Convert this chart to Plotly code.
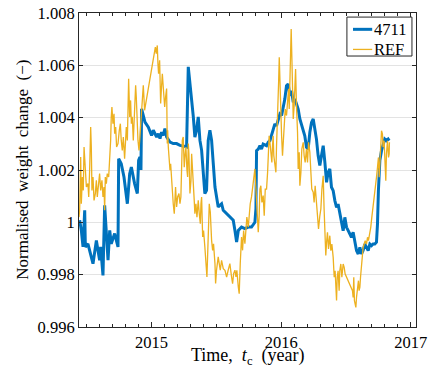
import plotly.graph_objects as go

# ---- data (decimal year, normalised weight) ----
t_4711 = [2014.445, 2014.458, 2014.471, 2014.484, 2014.489, 2014.509, 2014.548, 2014.574, 2014.599, 2014.607,
          2014.625, 2014.638, 2014.664, 2014.677, 2014.689, 2014.715, 2014.741, 2014.746, 2014.766, 2014.787,
          2014.813, 2014.823, 2014.831, 2014.844, 2014.869, 2014.890, 2014.900, 2014.910, 2014.918, 2014.923,
          2014.949, 2014.975, 2015.000, 2015.013, 2015.039, 2015.052, 2015.065, 2015.077, 2015.090, 2015.103,
          2015.116, 2015.142, 2015.167, 2015.193, 2015.219, 2015.244, 2015.270, 2015.283, 2015.296, 2015.309,
          2015.322, 2015.334, 2015.347, 2015.360, 2015.373, 2015.386, 2015.399, 2015.411, 2015.424, 2015.437,
          2015.450, 2015.463, 2015.476, 2015.489, 2015.514, 2015.540, 2015.553, 2015.579, 2015.604, 2015.630,
          2015.643, 2015.656, 2015.669, 2015.694, 2015.720, 2015.746, 2015.771, 2015.797, 2015.805, 2015.810,
          2015.823, 2015.836, 2015.848, 2015.861, 2015.887, 2015.900, 2015.913, 2015.925, 2015.938, 2015.951,
          2015.964, 2015.977, 2015.990, 2016.003, 2016.015, 2016.028, 2016.041, 2016.054, 2016.067, 2016.080,
          2016.093, 2016.105, 2016.118, 2016.131, 2016.144, 2016.157, 2016.170, 2016.182, 2016.195, 2016.208,
          2016.221, 2016.234, 2016.247, 2016.260, 2016.272, 2016.285, 2016.298, 2016.311, 2016.324, 2016.337,
          2016.350, 2016.362, 2016.375, 2016.388, 2016.401, 2016.414, 2016.427, 2016.439, 2016.452, 2016.465,
          2016.478, 2016.491, 2016.504, 2016.517, 2016.529, 2016.542, 2016.555, 2016.568, 2016.581, 2016.594,
          2016.607, 2016.619, 2016.632, 2016.645, 2016.658, 2016.671, 2016.684, 2016.697, 2016.709, 2016.722,
          2016.735, 2016.743, 2016.750, 2016.761, 2016.774, 2016.786, 2016.799, 2016.812, 2016.825, 2016.833]
w_4711 = [1.00008, 0.99969, 0.99906, 1.00046, 0.99906, 0.99918, 0.99842, 0.99931, 0.99855, 0.99906,
          0.99797, 1.00065, 0.99855, 0.99969, 0.99918, 0.99957, 0.99906, 1.00243, 1.00224, 1.00173,
          1.00071, 1.00122, 1.00186, 1.00211, 1.00148, 1.00110, 1.00237, 1.00250, 1.00200, 1.00434,
          1.00383, 1.00364, 1.00332, 1.00352, 1.00326, 1.00339, 1.00320, 1.00345, 1.00332, 1.00358,
          1.00326, 1.00307, 1.00301, 1.00301, 1.00294, 1.00292, 1.00288, 1.00594, 1.00536, 1.00470,
          1.00403, 1.00326, 1.00352, 1.00403, 1.00313, 1.00275, 1.00199, 1.00110, 1.00122, 1.00313,
          1.00352, 1.00313, 1.00224, 1.00135, 1.00059, 1.00071, 1.00046, 1.00033, 1.00020, 1.00008,
          0.99969, 0.99925, 0.99969, 0.99982, 0.99976, 0.99982, 0.99982, 1.00000, 1.00051, 1.00274,
          1.00280, 1.00293, 1.00280, 1.00299, 1.00293, 1.00306, 1.00312, 1.00331, 1.00357, 1.00376,
          1.00369, 1.00395, 1.00414, 1.00408, 1.00433, 1.00471, 1.00522, 1.00529, 1.00484, 1.00503,
          1.00459, 1.00471, 1.00452, 1.00433, 1.00395, 1.00376, 1.00350, 1.00331, 1.00287, 1.00280,
          1.00344, 1.00382, 1.00395, 1.00357, 1.00318, 1.00255, 1.00217, 1.00255, 1.00293, 1.00229,
          1.00153, 1.00191, 1.00204, 1.00134, 1.00121, 1.00083, 1.00057, 1.00070, 1.00032, 0.99994,
          0.99968, 1.00019, 0.99981, 0.99968, 0.99955, 0.99943, 0.99962, 0.99917, 0.99892, 0.99879,
          0.99904, 0.99879, 0.99892, 0.99917, 0.99904, 0.99892, 0.99917, 0.99911, 0.99917, 0.99917,
          0.99924, 0.99994, 1.00121, 1.00236, 1.00274, 1.00299, 1.00318, 1.00312, 1.00318, 1.00312]

t_ref = [2014.440, 2014.445, 2014.453, 2014.458, 2014.466, 2014.473, 2014.479, 2014.489, 2014.497, 2014.509,
         2014.515, 2014.522, 2014.530, 2014.535, 2014.540, 2014.548, 2014.556, 2014.566, 2014.574, 2014.581,
         2014.592, 2014.599, 2014.607, 2014.617, 2014.625, 2014.633, 2014.638, 2014.643, 2014.651, 2014.658,
         2014.669, 2014.676, 2014.684, 2014.689, 2014.694, 2014.702, 2014.710, 2014.715, 2014.723, 2014.730,
         2014.741, 2014.751, 2014.759, 2014.766, 2014.774, 2014.782, 2014.792, 2014.805, 2014.813, 2014.818,
         2014.823, 2014.831, 2014.838, 2014.844, 2014.851, 2014.859, 2014.869, 2014.877, 2014.882, 2014.890,
         2014.895, 2014.903, 2014.910, 2014.921, 2014.928, 2014.936, 2014.946, 2015.023, 2015.029, 2015.036,
         2015.044, 2015.049, 2015.054, 2015.062, 2015.070, 2015.075, 2015.083, 2015.090, 2015.101, 2015.108,
         2015.116, 2015.121, 2015.124, 2015.129, 2015.134, 2015.142, 2015.147, 2015.155, 2015.160, 2015.167,
         2015.175, 2015.180, 2015.185, 2015.193, 2015.201, 2015.211, 2015.219, 2015.226, 2015.237, 2015.244,
         2015.252, 2015.257, 2015.265, 2015.273, 2015.278, 2015.283, 2015.288, 2015.296, 2015.304, 2015.309,
         2015.316, 2015.324, 2015.329, 2015.334, 2015.342, 2015.350, 2015.360, 2015.368, 2015.376, 2015.381,
         2015.386, 2015.394, 2015.401, 2015.411, 2015.419, 2015.427, 2015.432, 2015.437, 2015.445, 2015.453,
         2015.458, 2015.463, 2015.471, 2015.478, 2015.489, 2015.494, 2015.501, 2015.509, 2015.514, 2015.522,
         2015.530, 2015.540, 2015.553, 2015.566, 2015.579, 2015.591, 2015.604, 2015.617, 2015.625, 2015.633,
         2015.643, 2015.651, 2015.658, 2015.669, 2015.676, 2015.684, 2015.689, 2015.694, 2015.702, 2015.710,
         2015.720, 2015.728, 2015.735, 2015.746, 2015.753, 2015.761, 2015.771, 2015.784, 2015.797, 2015.805,
         2015.810, 2015.815, 2015.823, 2015.830, 2015.836, 2015.843, 2015.851, 2015.861, 2015.869, 2015.877,
         2015.887, 2015.895, 2015.902, 2015.907, 2015.913, 2015.920, 2015.928, 2015.933, 2015.938, 2015.943,
         2015.951, 2015.959, 2015.964, 2015.969, 2015.974, 2015.980, 2015.985, 2015.990, 2015.995, 2016.003,
         2016.010, 2016.015, 2016.023, 2016.031, 2016.041, 2016.049, 2016.057, 2016.062, 2016.067, 2016.072,
         2016.077, 2016.082, 2016.087, 2016.093, 2016.100, 2016.105, 2016.111, 2016.118, 2016.126, 2016.131,
         2016.139, 2016.144, 2016.152, 2016.159, 2016.170, 2016.177, 2016.185, 2016.195, 2016.203, 2016.211,
         2016.221, 2016.229, 2016.236, 2016.247, 2016.254, 2016.262, 2016.272, 2016.280, 2016.288, 2016.298,
         2016.306, 2016.314, 2016.324, 2016.331, 2016.339, 2016.344, 2016.350, 2016.357, 2016.365, 2016.375,
         2016.383, 2016.391, 2016.401, 2016.409, 2016.416, 2016.421, 2016.427, 2016.432, 2016.439, 2016.447,
         2016.452, 2016.460, 2016.468, 2016.478, 2016.486, 2016.493, 2016.504, 2016.517, 2016.529, 2016.542,
         2016.550, 2016.555, 2016.560, 2016.565, 2016.571, 2016.576, 2016.581, 2016.586, 2016.591, 2016.596,
         2016.601, 2016.607, 2016.612, 2016.619, 2016.627, 2016.632, 2016.640, 2016.648, 2016.658, 2016.666,
         2016.673, 2016.684, 2016.691, 2016.699, 2016.709, 2016.717, 2016.725, 2016.735, 2016.743, 2016.750,
         2016.756, 2016.761, 2016.766, 2016.774, 2016.781, 2016.786, 2016.794, 2016.802, 2016.807, 2016.812,
         2016.820, 2016.828, 2016.833, 2016.835]
w_ref = [1.00020, 1.00046, 1.00250, 1.00071, 1.00173, 1.00122, 1.00288, 1.00211, 1.00135, 1.00148,
         1.00097, 1.00199, 1.00364, 1.00288, 1.00122, 1.00173, 1.00084, 1.00110, 1.00161, 1.00097,
         1.00148, 1.00186, 1.00122, 1.00161, 1.00097, 1.00135, 1.00046, 1.00173, 1.00148, 1.00186,
         1.00173, 1.00224, 1.00313, 1.00403, 1.00441, 1.00377, 1.00415, 1.00339, 1.00364, 1.00288,
         1.00301, 1.00352, 1.00377, 1.00313, 1.00275, 1.00326, 1.00243, 1.00364, 1.00313, 1.00428,
         1.00549, 1.00403, 1.00466, 1.00377, 1.00403, 1.00313, 1.00479, 1.00524, 1.00479, 1.00339,
         1.00313, 1.00275, 1.00326, 1.00415, 1.00441, 1.00524, 1.00428, 1.00638, 1.00670, 1.00645,
         1.00676, 1.00606, 1.00568, 1.00619, 1.00454, 1.00504, 1.00568, 1.00517, 1.00441, 1.00479,
         1.00511, 1.00301, 1.00352, 1.00288, 1.00237, 1.00199, 1.00224, 1.00148, 1.00084, 1.00071,
         1.00033, 1.00097, 1.00135, 1.00059, 1.00097, 1.00110, 1.00071, 1.00097, 1.00313, 1.00326,
         1.00211, 1.00250, 1.00288, 1.00199, 1.00173, 1.00301, 1.00262, 1.00110, 1.00161, 1.00262,
         1.00211, 1.00161, 1.00084, 1.00033, 1.00071, 1.00020, 1.00084, 1.00033, 0.99995, 1.00071,
         1.00097, 0.99944, 0.99969, 0.99906, 0.99855, 0.99791, 0.99868, 0.99969, 1.00071, 1.00039,
         0.99969, 0.99931, 0.99893, 0.99918, 0.99842, 0.99766, 0.99817, 0.99855, 0.99868, 0.99842,
         0.99817, 0.99855, 0.99823, 0.99817, 0.99791, 0.99817, 0.99842, 0.99791, 0.99766, 0.99804,
         0.99817, 0.99791, 0.99817, 0.99753, 0.99727, 0.99842, 0.99918, 0.99944, 0.99893, 0.99969,
         0.99918, 0.99995, 1.00020, 0.99982, 1.00033, 1.00071, 1.00097, 1.00161, 1.00204, 1.00127,
         1.00076, 1.00000, 0.99962, 1.00025, 1.00127, 1.00140, 1.00076, 1.00102, 1.00025, 1.00127,
         1.00127, 1.00191, 1.00255, 1.00331, 1.00306, 1.00280, 1.00229, 1.00293, 1.00331, 1.00255,
         1.00217, 1.00191, 1.00293, 1.00357, 1.00408, 1.00535, 1.00631, 1.00535, 1.00408, 1.00331,
         1.00255, 1.00306, 1.00382, 1.00433, 1.00408, 1.00471, 1.00510, 1.00433, 1.00535, 1.00662,
         1.00739, 1.00637, 1.00484, 1.00395, 1.00446, 1.00510, 1.00586, 1.00446, 1.00344, 1.00204,
         1.00268, 1.00140, 1.00191, 1.00280, 1.00306, 1.00255, 1.00229, 1.00280, 1.00229, 1.00306,
         1.00268, 1.00191, 1.00127, 1.00115, 1.00076, 1.00140, 1.00064, 1.00000, 0.99975, 1.00025,
         1.00051, 1.00127, 1.00178, 1.00051, 0.99949, 0.99873, 0.99924, 0.99962, 0.99898, 0.99949,
         0.99892, 0.99917, 0.99866, 0.99790, 0.99815, 0.99726, 0.99701, 0.99790, 0.99815, 0.99739,
         0.99815, 0.99841, 0.99790, 0.99841, 0.99828, 0.99803, 0.99790, 0.99777, 0.99764, 0.99752,
         0.99739, 0.99713, 0.99790, 0.99701, 0.99688, 0.99675, 0.99713, 0.99739, 0.99764, 0.99777,
         0.99739, 0.99752, 0.99790, 0.99828, 0.99879, 0.99904, 0.99917, 0.99930, 0.99917, 0.99943,
         0.99930, 0.99955, 0.99981, 1.00019, 1.00057, 1.00083, 1.00121, 1.00172, 1.00210, 1.00248,
         1.00172, 1.00223, 1.00299, 1.00350, 1.00338, 1.00287, 1.00312, 1.00236, 1.00159, 1.00261,
         1.00312, 1.00248, 1.00261, 1.00306]

series_names = ["4711", "REF"]
y_tick_vals = [0.996, 0.998, 1.000, 1.002, 1.004, 1.006, 1.008]
y_tick_text = ["0.996", "0.998", "1", "1.002", "1.004", "1.006", "1.008"]
x_tick_vals = [2015, 2016, 2017]
x_tick_text = ["2015", "2016", "2017"]
x_title = "Time,\u00a0\u00a0<i>t</i><sub>c</sub>\u00a0\u00a0(year)"
y_title = "Normalised\u00a0\u00a0weight\u00a0\u00a0change\u00a0\u00a0(\u2212)"

BLUE = "#0072BD"
ORANGE = "#EDB120"
FONT = "Liberation Serif, Times New Roman, serif"
AXC = "#262626"

fig = go.Figure()
fig.add_trace(go.Scatter(x=t_4711, y=w_4711, mode="lines", name=series_names[0],
                         line=dict(color=BLUE, width=3), showlegend=False, hoverinfo="skip"))
fig.add_trace(go.Scatter(x=t_ref, y=w_ref, mode="lines", name=series_names[1],
                         line=dict(color=ORANGE, width=1.3), showlegend=False, hoverinfo="skip"))

axis_common = dict(showline=True, linecolor=AXC, linewidth=1, mirror="ticks",
                   ticks="inside", tickcolor=AXC, zeroline=False, automargin=False,
                   ticklabeloverflow="allow",
                   tickfont=dict(family=FONT, size=16.5, color="#000000"))

fig.update_xaxes(range=[2014.44, 2017.04], tickvals=x_tick_vals, ticktext=x_tick_text,
                 ticklen=5, showgrid=False,
                 minor=dict(dtick=0.1, tick0=2014, ticks="inside", ticklen=3, tickcolor=AXC,
                            showgrid=False),
                 **axis_common)
fig.update_yaxes(range=[0.996, 1.008], tickvals=y_tick_vals, ticktext=y_tick_text,
                 ticklen=4, showgrid=True, gridcolor="#E3E3E3", gridwidth=1,
                 **axis_common)

# axis titles (placed as annotations for exact positioning)
fig.add_annotation(xref="paper", yref="paper", x=0.50, y=-0.093, xanchor="center", yanchor="middle",
                   text=x_title, showarrow=False, font=dict(family=FONT, size=18, color="#000000"))
fig.add_annotation(xref="paper", yref="paper", x=-0.17, y=0.50, xanchor="center", yanchor="middle",
                   text=y_title, textangle=-90, showarrow=False,
                   font=dict(family=FONT, size=17, color="#000000"))

# legend box drawn in the upper-right corner of the axes
fig.add_shape(type="rect", xref="paper", yref="paper", x0=0.795, x1=0.988, y0=0.863, y1=0.987,
              line=dict(color=AXC, width=1), fillcolor="white", layer="above")
fig.add_shape(type="line", xref="paper", yref="paper", x0=0.813, x1=0.870, y0=0.948, y1=0.948,
              line=dict(color=BLUE, width=3), layer="above")
fig.add_shape(type="line", xref="paper", yref="paper", x0=0.813, x1=0.870, y0=0.884, y1=0.884,
              line=dict(color=ORANGE, width=1.3), layer="above")
fig.add_annotation(xref="paper", yref="paper", x=0.870, y=0.948, xanchor="left", yanchor="middle",
                   text=series_names[0], showarrow=False, font=dict(family=FONT, size=16.5, color="#000000"))
fig.add_annotation(xref="paper", yref="paper", x=0.870, y=0.884, xanchor="left", yanchor="middle",
                   text=series_names[1], showarrow=False, font=dict(family=FONT, size=16.5, color="#000000"))

fig.update_layout(
    width=432, height=374,
    margin=dict(l=79, r=15.5, t=13, b=47, autoexpand=False),
    paper_bgcolor="white", plot_bgcolor="white",
    showlegend=False, hovermode=False,
)

# remove the default 8px page margin so the figure fills the window exactly
fig.write_html("out.html", config={"displayModeBar": False, "staticPlot": True},
               post_script="document.body.style.margin='0';")
